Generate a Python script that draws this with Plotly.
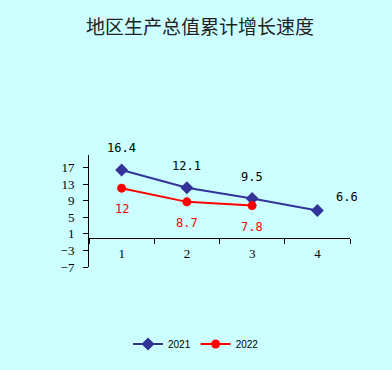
import plotly.graph_objects as go

categories = ["1", "2", "3", "4"]
values_2021 = [16.4, 12.1, 9.5, 6.6]
values_2022 = [12, 8.7, 7.8]
label_2021 = ["16.4", "12.1", "9.5", "6.6"]
label_2022 = ["12", "8.7", "7.8"]
y_ticks = [-7, -3, 1, 5, 9, 13, 17]

BG = "#CCFFFF"
BLUE = "#333399"
RED = "#FF0000"
Y_MIN, Y_MAX = -7, 20

fig = go.Figure()
fig.add_trace(go.Scatter(
    x=categories, y=values_2021, name="2021", mode="lines+markers",
    line=dict(color=BLUE, width=2),
    marker=dict(symbol="diamond", size=10, color=BLUE),
))
fig.add_trace(go.Scatter(
    x=categories[:len(values_2022)], y=values_2022, name="2022", mode="lines+markers",
    line=dict(color=RED, width=2),
    marker=dict(symbol="circle", size=9, color=RED),
))

num_font = dict(family="DejaVu Sans Mono", size=12)
for i, (v, t) in enumerate(zip(values_2021, label_2021)):
    last = i == len(values_2021) - 1
    fig.add_annotation(x=i, y=v, text=t, showarrow=False,
                       xshift=30 if last else 0, yshift=14 if last else 22,
                       font=dict(color="#000000", **num_font))
for i, (v, t) in enumerate(zip(values_2022, label_2022)):
    fig.add_annotation(x=i, y=v, text=t, showarrow=False, yshift=-21,
                       font=dict(color=RED, **num_font))

fig.update_layout(
    width=392, height=370,
    paper_bgcolor=BG, plot_bgcolor=BG,
    margin=dict(l=89, r=42, t=155, b=103),
    title=dict(text="地区生产总值累计增长速度", x=0.51, xref="container",
               y=1 - 27 / 370, yref="container", xanchor="center", yanchor="middle",
               font=dict(family="Noto Sans CJK SC", size=19, color="#222222")),
    showlegend=True,
    legend=dict(orientation="h", xref="container", yref="container",
                x=0.5, y=1 - 344 / 370, xanchor="center", yanchor="middle",
                bgcolor="rgba(0,0,0,0)",
                font=dict(family="Liberation Sans", size=10, color="#000000")),
    xaxis=dict(type="category", range=[-0.5, 3.5], anchor="free",
               position=(0 - Y_MIN) / (Y_MAX - Y_MIN),
               showline=True, linecolor="#000000", linewidth=1,
               ticks="outside", tickson="boundaries", ticklen=5, tickcolor="#000000",
               showgrid=False, zeroline=False, ticklabelstandoff=3,
               tickfont=dict(family="Liberation Serif", size=13, color="#000000")),
    yaxis=dict(range=[Y_MIN, Y_MAX], tickvals=y_ticks, ticktext=[str(v).replace("-", "−") for v in y_ticks],
               showline=True, linecolor="#000000", linewidth=1,
               ticks="outside", ticklen=5, tickcolor="#000000",
               showgrid=False, zeroline=False, ticklabelstandoff=6,
               tickfont=dict(family="Liberation Serif", size=13, color="#000000")),
)

fig.write_html("out.html", config={"displayModeBar": False},
               post_script="document.body.style.margin='0';")
